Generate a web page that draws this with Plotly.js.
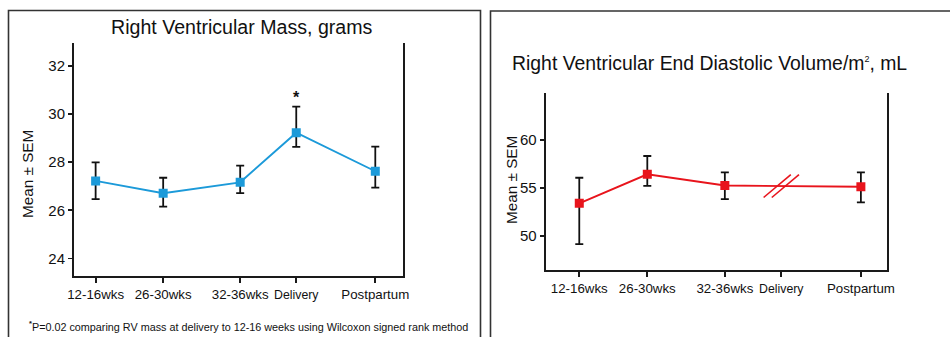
<!DOCTYPE html>
<html>
<head>
<meta charset="utf-8">
<script src="https://cdn.plot.ly/plotly-3.0.1.min.js"></script>
<style>
html,body{margin:0;padding:0;background:#fff;}
#chart{width:950px;height:337px;}
</style>
</head>
<body>
<div id="chart"></div>
<script>
// ---- data ----
var categories = ["12-16wks", "26-30wks", "32-36wks", "Delivery", "Postpartum"];
// relative time position of each visit along the x axis (as spaced in the figure)
var visitPos = [0, 1, 2.14, 2.97, 4.14];

var massMean  = [27.22, 26.71, 27.16, 29.22, 27.62];
var massUpper = [27.99, 27.35, 27.85, 30.30, 28.64];
var massLower = [26.46, 26.15, 26.71, 28.63, 26.94];

// RV end diastolic volume: no measurement at delivery (axis break)
var edvMean  = [53.39, 56.42, 55.25, null, 55.12];
var edvUpper = [56.06, 58.33, 56.62, null, 56.62];
var edvLower = [49.13, 55.22, 53.83, null, 53.49];

var massTicks = [24, 26, 28, 30, 32];
var edvTicks = [50, 55, 60];

var titleMass = "Right Ventricular Mass, grams";
var titleEdv = "Right Ventricular End Diastolic Volume/m<sup><span style='font-size:9px'>2</span></sup>, mL";
var yTitle = "Mean ± SEM";
var footnote = "P=0.02 comparing RV mass at delivery to 12-16 weeks using Wilcoxon signed rank method";

// ---- helpers ----
function diff(a, b) { return a.map(function (v, i) { return v == null ? null : +(v - b[i]).toFixed(3); }); }

var FONT = "Liberation Sans, Arial, sans-serif";
var BLUE = "#1c9ad9";
var RED = "#e8141c";
var AX = "#1a1a1a";

// "Delivery" is set slightly smaller in the figure
var tickText = categories.map(function (c) {
  return c === "Delivery" ? "<span style='font-size:12.3px'>" + c + "</span>" : c;
});

var massTrace = {
  x: visitPos, y: massMean, type: "scatter", mode: "lines+markers",
  xaxis: "x", yaxis: "y",
  line: {color: BLUE, width: 1.9},
  marker: {symbol: "square", size: 9, color: BLUE},
  error_y: {type: "data", symmetric: false, array: diff(massUpper, massMean),
            arrayminus: diff(massMean, massLower), color: "#111", thickness: 1.8, width: 4},
  hoverinfo: "skip", showlegend: false
};

var edvTrace = {
  x: visitPos, y: edvMean, type: "scatter", mode: "lines+markers",
  xaxis: "x2", yaxis: "y2", connectgaps: true,
  line: {color: RED, width: 1.9},
  marker: {symbol: "square", size: 9, color: RED},
  error_y: {type: "data", symmetric: false, array: diff(edvUpper, edvMean),
            arrayminus: diff(edvMean, edvLower), color: "#111", thickness: 1.8, width: 4},
  hoverinfo: "skip", showlegend: false
};

// axis break position for EDV: interpolate between neighbours at "Delivery"
var bi = 3;
var t = (visitPos[bi] - visitPos[bi - 1]) / (visitPos[bi + 1] - visitPos[bi - 1]);
var breakY = edvMean[bi - 1] + t * (edvMean[bi + 1] - edvMean[bi - 1]);
var bx = visitPos[bi];
var breakShapes = [-0.06, 0.06].map(function (off) {
  return {type: "line", xref: "x2", yref: "y2",
          x0: bx + off - 0.2, y0: breakY - 1.2, x1: bx + off + 0.2, y1: breakY + 1.2,
          line: {color: RED, width: 1.6}};
});

function xAxis(domain, range, anchor) {
  return {domain: domain, range: range, anchor: anchor,
          tickmode: "array", tickvals: visitPos, ticktext: tickText,
          showline: true, linecolor: AX, linewidth: 2, mirror: false,
          ticks: "outside", ticklen: 5, tickwidth: 1.8, tickcolor: AX,
          showgrid: false, zeroline: false,
          tickfont: {family: FONT, size: 13.3, color: "#111"}, fixedrange: true};
}
function yAxis(domain, range, ticks, anchor) {
  return {domain: domain, range: range, anchor: anchor,
          tickmode: "array", tickvals: ticks,
          showline: true, linecolor: AX, linewidth: 2, mirror: true,
          ticks: "outside", ticklen: 4, tickwidth: 1.8, tickcolor: AX,
          showgrid: false, zeroline: false,
          tickfont: {family: FONT, size: 15, color: "#111"}, fixedrange: true};
}

var layout = {
  width: 950, height: 337,
  margin: {l: 0, r: 0, t: 0, b: 0},
  paper_bgcolor: "#fff", plot_bgcolor: "#fff",
  showlegend: false,
  xaxis: xAxis([0.0779, 0.4242], [-0.32, 4.55], "y"),
  yaxis: yAxis([0.181, 0.872], [23.27, 32.94], massTicks, "x"),
  xaxis2: xAxis([0.5744, 0.9334], [-0.494, 4.52], "y2"),
  yaxis2: yAxis([0.1988, 0.7231], [46.42, 64.88], edvTicks, "x2"),
  shapes: [
    {type: "rect", xref: "paper", yref: "paper", x0: 8.5 / 950, x1: 480.5 / 950, y0: -0.05, y1: 1 - 10.5 / 337,
     line: {color: "#333", width: 1.6}},
    {type: "rect", xref: "paper", yref: "paper", x0: 490.5 / 950, x1: 1.05, y0: -0.05, y1: 1 - 11 / 337,
     line: {color: "#333", width: 1.6}}
  ].concat(breakShapes),
  annotations: [
    {text: titleMass, xref: "paper", yref: "paper", x: 242 / 950, y: 1 - 27 / 337,
     xanchor: "center", yanchor: "middle", showarrow: false,
     font: {family: FONT, size: 19.6, color: "#111"}},
    {text: titleEdv, xref: "paper", yref: "paper", x: 510 / 950, y: 1 - 63 / 337,
     xanchor: "left", yanchor: "middle", showarrow: false,
     font: {family: FONT, size: 19.4, color: "#111"}},
    {text: yTitle, xref: "paper", yref: "paper", x: 28 / 950, y: 1 - 174 / 337, textangle: -90,
     xanchor: "center", yanchor: "middle", showarrow: false,
     font: {family: FONT, size: 15.3, color: "#111"}},
    {text: yTitle, xref: "paper", yref: "paper", x: 511 / 950, y: 1 - 180 / 337, textangle: -90,
     xanchor: "center", yanchor: "middle", showarrow: false,
     font: {family: FONT, size: 15.3, color: "#111"}},
    {text: "<b>*</b>", xref: "x", yref: "y", x: visitPos[3], y: massUpper[3],
     xanchor: "center", yanchor: "bottom", yshift: -1, showarrow: false,
     font: {family: FONT, size: 16, color: "#111"}},
    {text: "<sup><b>*</b></sup>" + footnote, xref: "paper", yref: "paper", x: 27 / 950, y: 1 - 326 / 337,
     xanchor: "left", yanchor: "middle", showarrow: false,
     font: {family: FONT, size: 10.8, color: "#111"}}
  ]
};

Plotly.newPlot("chart", [massTrace, edvTrace], layout, {displayModeBar: false, staticPlot: true});
</script>
</body>
</html>
